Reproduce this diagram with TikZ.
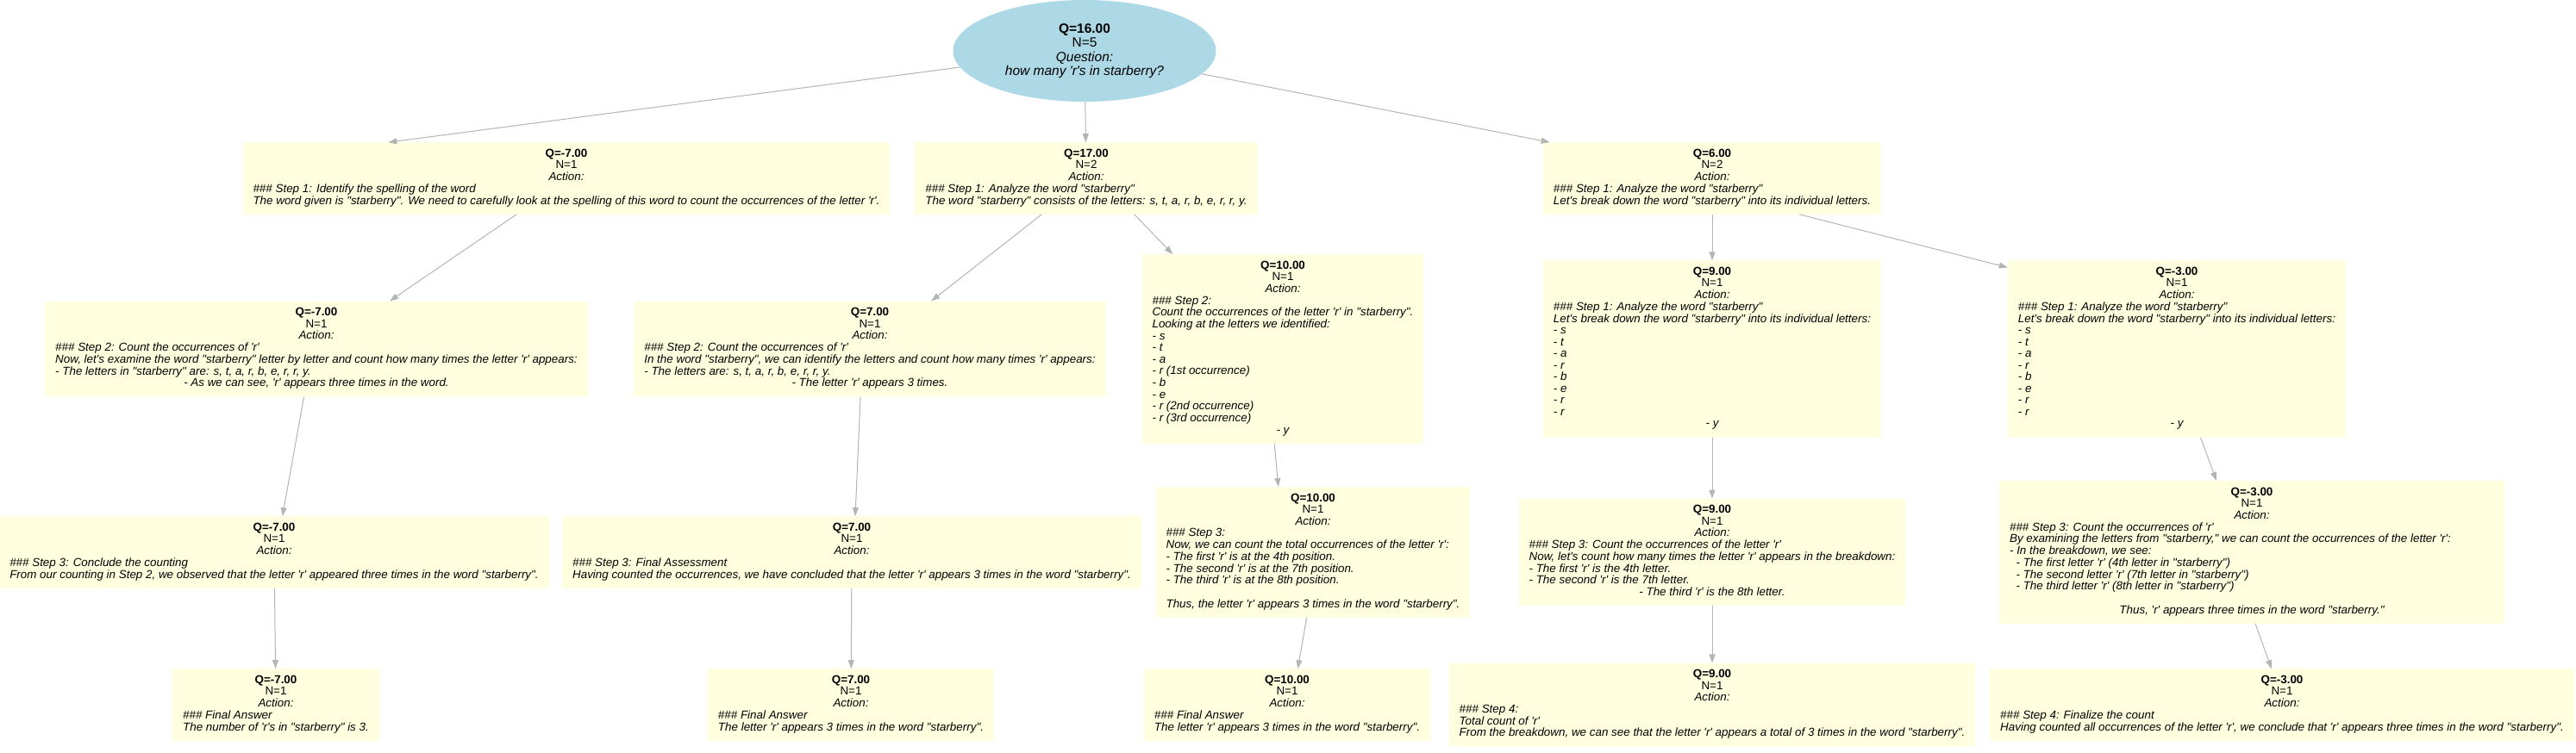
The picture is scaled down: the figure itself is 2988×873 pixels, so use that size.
\documentclass[tikz,border=0pt]{standalone}
\usepackage{fontspec}
\newfontfamily\gvfont{Liberation Sans}
\usepackage{array}
\usepackage{xcolor}
\usepackage{tikz}
\usetikzlibrary{arrows.meta,positioning,calc,shapes.geometric}

\definecolor{stepfill}{HTML}{FFFFE0}
\definecolor{rootfill}{HTML}{ADD8E6}
\definecolor{edgegray}{HTML}{B4B4B4}

\newcommand{\hdr}[2]{\multicolumn{1}{@{}c@{}}{\bfseries Q=#1}\\\multicolumn{1}{@{}c@{}}{N=#2}\\\multicolumn{1}{@{}c@{}}{\itshape Action:}\\}
\newcommand{\ctr}[1]{\multicolumn{1}{@{}c@{}}{\itshape #1}}
\newcommand{\ind}{\hspace*{0.56em}}
\newenvironment{steptext}{\begin{tabular}{@{}>{\itshape}l@{}}}{\end{tabular}}

\begin{document}
\begin{tikzpicture}[
  x=1pt, y=-1pt,
  rootnode/.style={ellipse, fill=rootfill, minimum width=305pt, minimum height=118pt, inner sep=0pt, align=center, font=\gvfont\fontsize{15.5}{16.4}\selectfont},
  stepnode/.style={fill=stepfill, inner xsep=12pt, inner ysep=7.5pt, font=\gvfont\fontsize{13.4}{13.5}\selectfont},
  arr/.style={-{Triangle[length=10pt,width=7pt]}, draw=edgegray, line width=1pt},
]
  \useasboundingbox (0,0) rectangle (2988,873);

  \node[rootnode] (root) at (1258,59) {\textbf{Q=16.00}\\N=5\\\textit{Question:}\\\textit{how many 'r's in starberry?}};

  \node[stepnode] (a1) at (657,207) {\begin{steptext}\hdr{-7.00}{1}
    \#\#\# Step 1: Identify the spelling of the word\\
    \ctr{The word given is "starberry". We need to carefully look at the spelling of this word to count the occurrences of the letter 'r'.}
  \end{steptext}};
  \node[stepnode] (b1) at (1260,207) {\begin{steptext}\hdr{17.00}{2}
    \#\#\# Step 1: Analyze the word "starberry"\\
    \ctr{The word "starberry" consists of the letters: s, t, a, r, b, e, r, r, y.}
  \end{steptext}};
  \node[stepnode] (c1) at (1986,207) {\begin{steptext}\hdr{6.00}{2}
    \#\#\# Step 1: Analyze the word "starberry"\\
    \ctr{Let's break down the word "starberry" into its individual letters.}
  \end{steptext}};

  \node[stepnode] (a2) at (367,405) {\begin{steptext}\hdr{-7.00}{1}
    \#\#\# Step 2: Count the occurrences of 'r'\\
    Now, let's examine the word "starberry" letter by letter and count how many times the letter 'r' appears:\\
    - The letters in "starberry" are: s, t, a, r, b, e, r, r, y.\\
    \ctr{- As we can see, 'r' appears three times in the word.}
  \end{steptext}};
  \node[stepnode] (b2) at (1009,405) {\begin{steptext}\hdr{7.00}{1}
    \#\#\# Step 2: Count the occurrences of 'r'\\
    In the word "starberry", we can identify the letters and count how many times 'r' appears:\\
    - The letters are: s, t, a, r, b, e, r, r, y.\\
    \ctr{- The letter 'r' appears 3 times.}
  \end{steptext}};
  \node[stepnode] (b3) at (1488,405) {\begin{steptext}\hdr{10.00}{1}
    \#\#\# Step 2:\\
    Count the occurrences of the letter 'r' in "starberry".\\
    Looking at the letters we identified:\\
    - s\\ - t\\ - a\\ - r (1st occurrence)\\ - b\\ - e\\ - r (2nd occurrence)\\ - r (3rd occurrence)\\
    \ctr{- y}
  \end{steptext}};
  \node[stepnode] (c2) at (1986,405) {\begin{steptext}\hdr{9.00}{1}
    \#\#\# Step 1: Analyze the word "starberry"\\
    Let's break down the word "starberry" into its individual letters:\\
    - s\\ - t\\ - a\\ - r\\ - b\\ - e\\ - r\\ - r\\
    \ctr{- y}
  \end{steptext}};
  \node[stepnode] (c3) at (2525,405) {\begin{steptext}\hdr{-3.00}{1}
    \#\#\# Step 1: Analyze the word "starberry"\\
    Let's break down the word "starberry" into its individual letters:\\
    - s\\ - t\\ - a\\ - r\\ - b\\ - e\\ - r\\ - r\\
    \ctr{- y}
  \end{steptext}};

  \node[stepnode] (a3) at (318,641) {\begin{steptext}\hdr{-7.00}{1}
    \#\#\# Step 3: Conclude the counting\\
    \ctr{From our counting in Step 2, we observed that the letter 'r' appeared three times in the word "starberry".}
  \end{steptext}};
  \node[stepnode] (b4) at (988,641) {\begin{steptext}\hdr{7.00}{1}
    \#\#\# Step 3: Final Assessment\\
    \ctr{Having counted the occurrences, we have concluded that the letter 'r' appears 3 times in the word "starberry".}
  \end{steptext}};
  \node[stepnode] (b5) at (1523,641) {\begin{steptext}\hdr{10.00}{1}
    \#\#\# Step 3:\\
    Now, we can count the total occurrences of the letter 'r':\\
    - The first 'r' is at the 4th position.\\
    - The second 'r' is at the 7th position.\\
    - The third 'r' is at the 8th position.\\
    \\
    \ctr{Thus, the letter 'r' appears 3 times in the word "starberry".}
  \end{steptext}};
  \node[stepnode] (c4) at (1986,641) {\begin{steptext}\hdr{9.00}{1}
    \#\#\# Step 3: Count the occurrences of the letter 'r'\\
    Now, let's count how many times the letter 'r' appears in the breakdown:\\
    - The first 'r' is the 4th letter.\\
    - The second 'r' is the 7th letter.\\
    \ctr{- The third 'r' is the 8th letter.}
  \end{steptext}};
  \node[stepnode] (c5) at (2612,641) {\begin{steptext}\hdr{-3.00}{1}
    \#\#\# Step 3: Count the occurrences of 'r'\\
    By examining the letters from "starberry," we can count the occurrences of the letter 'r':\rule{50pt}{0pt}\\
    - In the breakdown, we see:\\
    \ind- The first letter 'r' (4th letter in "starberry")\\
    \ind- The second letter 'r' (7th letter in "starberry")\\
    \ind- The third letter 'r' (8th letter in "starberry")\\
    \\
    \ctr{Thus, 'r' appears three times in the word "starberry."}
  \end{steptext}};

  \node[stepnode] (a4) at (320,818) {\begin{steptext}\hdr{-7.00}{1}
    \#\#\# Final Answer\\
    \ctr{The number of 'r's in "starberry" is 3.}
  \end{steptext}};
  \node[stepnode] (b6) at (987,818) {\begin{steptext}\hdr{7.00}{1}
    \#\#\# Final Answer\\
    \ctr{The letter 'r' appears 3 times in the word "starberry".}
  \end{steptext}};
  \node[stepnode] (b7) at (1493,818) {\begin{steptext}\hdr{10.00}{1}
    \#\#\# Final Answer\\
    \ctr{The letter 'r' appears 3 times in the word "starberry".}
  \end{steptext}};
  \node[stepnode] (c6) at (1986,818) {\begin{steptext}\hdr{9.00}{1}
    \#\#\# Step 4:\\
    Total count of 'r'\\
    \ctr{From the breakdown, we can see that the letter 'r' appears a total of 3 times in the word "starberry".}
  \end{steptext}};
  \node[stepnode] (c7) at (2647,818) {\begin{steptext}\hdr{-3.00}{1}
    \#\#\# Step 4: Finalize the count\\
    \ctr{Having counted all occurrences of the letter 'r', we conclude that 'r' appears three times in the word "starberry".}
  \end{steptext}};

  \draw[arr] (root) -- ($(a1.north west)!0.225!(a1.north east)$);
  \draw[arr] (root) -- (b1);
  \draw[arr] (root) -- ($(c1.north west)!0.02!(c1.north east)$);
  \draw[arr] ($(a1.south west)!0.423!(a1.south east)$) -- ($(a2.north west)!0.635!(a2.north east)$);
  \draw[arr] ($(a2.south west)!0.477!(a2.south east)$) -- ($(a3.north west)!0.515!(a3.north east)$);
  \draw[arr] (a3) -- (a4);
  \draw[arr] ($(b1.south west)!0.37!(b1.south east)$) -- ($(b2.north west)!0.63!(b2.north east)$);
  \draw[arr] ($(b1.south west)!0.64!(b1.south east)$) -- ($(b3.north west)!0.11!(b3.north east)$);
  \draw[arr] ($(b2.south west)!0.48!(b2.south east)$) -- ($(b4.north west)!0.506!(b4.north east)$);
  \draw[arr] (b4) -- (b6);
  \draw[arr] ($(b3.south west)!0.47!(b3.south east)$) -- ($(b5.north west)!0.39!(b5.north east)$);
  \draw[arr] ($(b5.south west)!0.48!(b5.south east)$) -- ($(b7.north west)!0.537!(b7.north east)$);
  \draw[arr] (c1) -- (c2);
  \draw[arr] ($(c1.south west)!0.758!(c1.south east)$) -- ($(c3.north west)!0.04!(c3.south west)$);
  \draw[arr] (c2) -- (c4);
  \draw[arr] (c4) -- (c6);
  \draw[arr] ($(c3.south west)!0.57!(c3.south east)$) -- ($(c5.north west)!0.43!(c5.north east)$);
  \draw[arr] ($(c5.south west)!0.507!(c5.south east)$) -- ($(c7.north west)!0.482!(c7.north east)$);
\end{tikzpicture}
\end{document}
